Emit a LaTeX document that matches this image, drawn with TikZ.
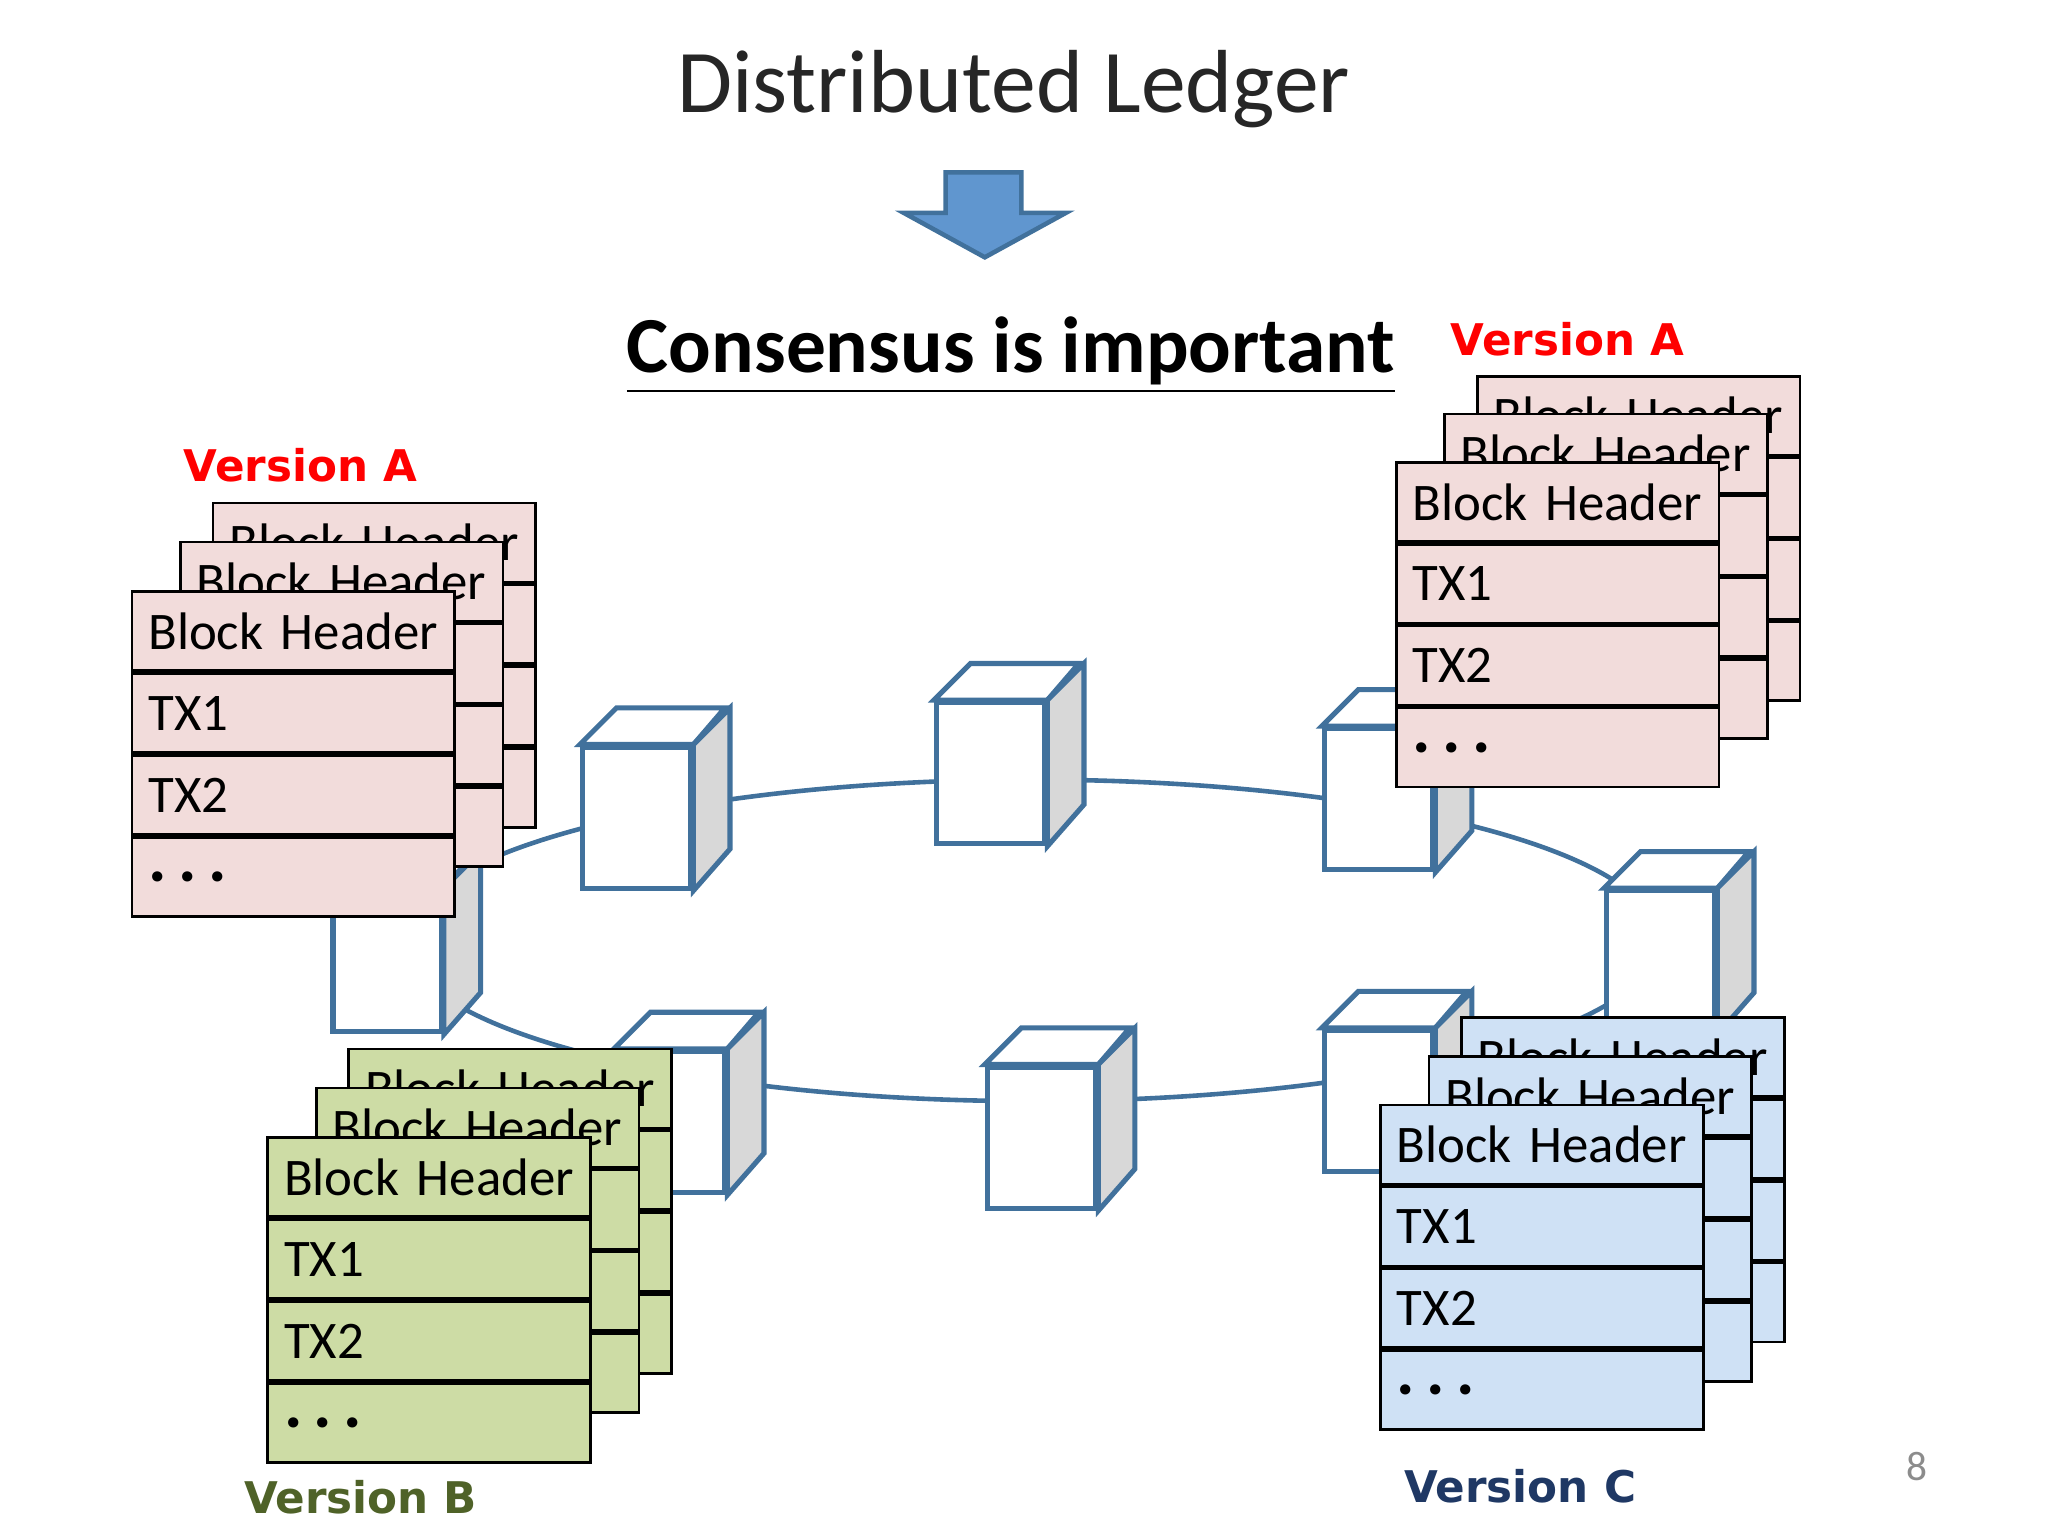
\documentclass[tikz,border=0pt]{standalone}
\usepackage{fontspec}
\setmainfont{Carlito}
\newfontfamily\verfont{DejaVu Sans}
\usetikzlibrary{shapes.geometric}
\definecolor{cblue}{RGB}{65,113,156}
\definecolor{carrow}{RGB}{96,150,207}
\definecolor{cpink}{RGB}{242,220,219}
\definecolor{cgreen}{RGB}{205,220,165}
\definecolor{clight}{RGB}{207,225,245}
\definecolor{cside}{RGB}{216,216,216}
\definecolor{cverb}{RGB}{79,98,40}
\definecolor{cverc}{RGB}{31,56,100}

\tikzset{
  row/.style={draw,line width=0.6pt,anchor=north west,minimum width=2.47cm,minimum height=0.605cm,
    inner xsep=0.12cm,inner ysep=0pt,text width=2.22cm,align=left,font=\fontsize{11.5}{11.5}\selectfont},
  box/.style={draw=cblue,line width=1.1pt,fill=white,anchor=north west,minimum width=0.83cm,minimum height=1.08cm,inner sep=0pt},
  ver/.style={font=\verfont\bfseries\fontsize{9.5}{9.5}\selectfont}
}

% one cube: front face plus top and side
\newcommand\cube[3]{
  \node[box] (#1) at (#2,#3) {};
  \draw[cblue,line width=1.1pt,fill=white] (#1.north west) -- ++(28,-28) -- ++(83,0) -- (#1.north east) -- cycle;
  \draw[cblue,line width=1.1pt,fill=cside] (#1.north east) -- ++(28,-28) -- ++(0,108) -- (#1.south east) -- cycle;
}
% one ledger sheet
\newcommand\sheet[4]{
  \node[row,fill=#4] (#1h) at (#2,#3) {Block Header};
  \node[row,fill=#4] (#1a) at (#1h.south west) {TX1};
  \node[row,fill=#4] (#1b) at (#1a.south west) {TX2};
  \node[row,fill=#4] (#1d) at (#1b.south west) {\fontsize{15}{15}\selectfont\textbf{.\,.\,.}};
}

\begin{document}
\begin{tikzpicture}[x=0.01cm,y=-0.01cm]
\useasboundingbox (0,0) rectangle (1568,1176);

\node[font=\fontsize{19.5}{19.5}\selectfont,text=black!85] (title) at (776,68) {Distributed Ledger};
\draw[cblue,line width=1pt,fill=carrow] (724,132) -- (782,132) -- (782,163) -- (816,163) -- (754,197)
  -- (692,163) -- (724,163) -- cycle;
\node[font=\bfseries\fontsize{17.3}{17.3}\selectfont] (cons) at (774,272) {\underline{Consensus is important}};

% ring of nodes
\node[ellipse,draw=cblue,line width=1pt,minimum width=9.6cm,minimum height=2.46cm] (ring) at (790,720) {};

\cube{n1}{444}{570}
\cube{n2}{715}{536}
\cube{n3}{1012}{556}
\cube{n4}{1228}{680}
\cube{n5}{1012}{787}
\cube{n6}{754}{815}
\cube{n7}{470}{803}
\cube{n8}{253}{680}

% ledger copies
\sheet{pa}{162}{384}{cpink}
\sheet{pb}{137}{414}{cpink}
\sheet{pc}{100}{452}{cpink}
\sheet{qa}{1130}{287}{cpink}
\sheet{qb}{1105}{316}{cpink}
\sheet{qc}{1068}{353}{cpink}
\sheet{ga}{266}{802}{cgreen}
\sheet{gb}{241}{832}{cgreen}
\sheet{gc}{204}{870}{cgreen}
\sheet{ba}{1118}{778}{clight}
\sheet{bb}{1093}{808}{clight}
\sheet{bc}{1056}{845}{clight}

\node[ver,text=red] (va) at (230,356) {Version A};
\node[ver,text=red] (vq) at (1200,260) {Version A};
\node[ver,text=cverb] (vb) at (276,1146) {Version B};
\node[ver,text=cverc] (vc) at (1164,1138) {Version C};
\node[text=black!45,font=\small] (page) at (1468,1123) {8};
\end{tikzpicture}
\end{document}
